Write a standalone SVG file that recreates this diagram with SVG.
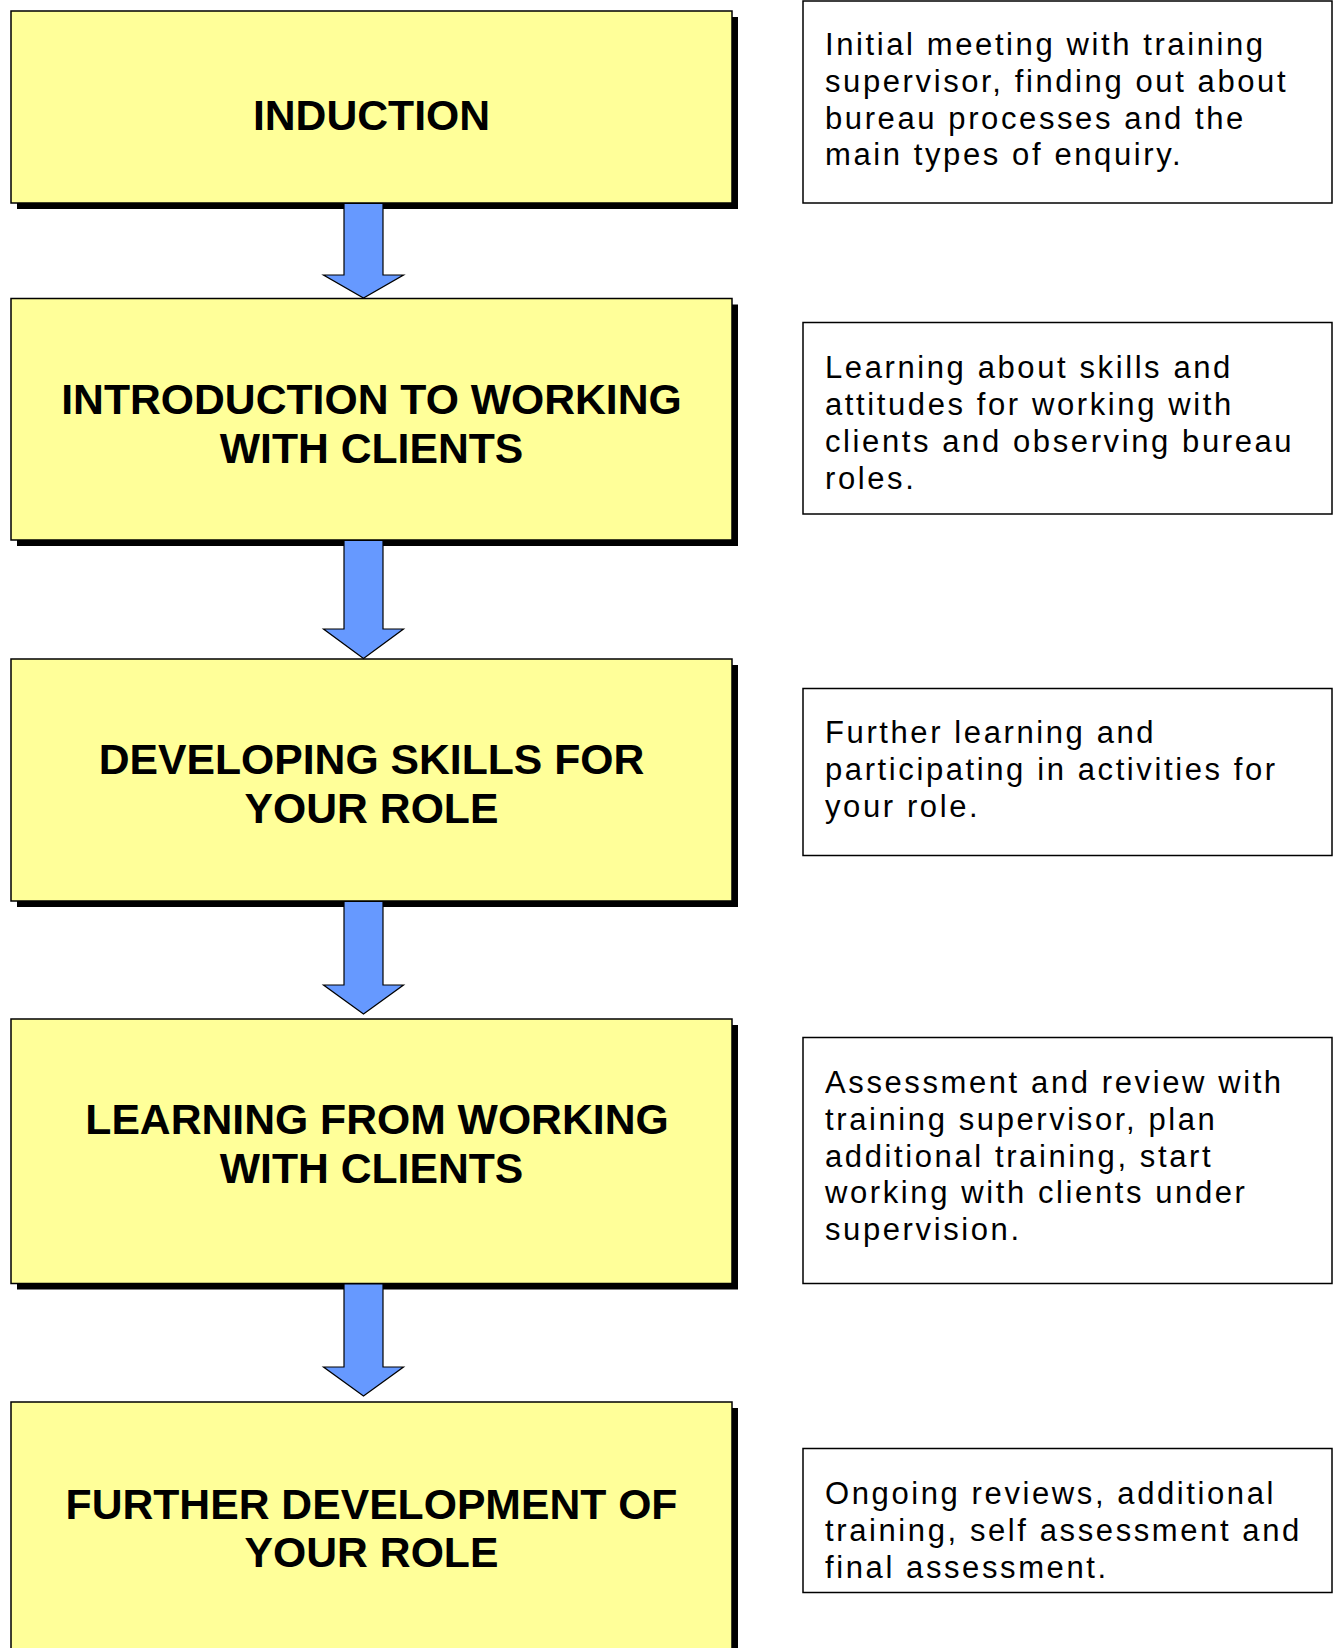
<svg xmlns="http://www.w3.org/2000/svg" width="1334" height="1648" viewBox="0 0 1334 1648">
<style>
.shadow{fill:#000}
.stage{fill:#FFFF99;stroke:#000;stroke-width:1.5}
.title{font-family:"Liberation Sans",Arial,sans-serif;font-weight:bold;font-size:42.7px;fill:#000;text-anchor:middle}
.note{fill:#fff;stroke:#000;stroke-width:1.5}
.desc{font-family:"Liberation Sans",Arial,sans-serif;font-size:31px;letter-spacing:2.6px;fill:#000}
.arrow{fill:#6699FF;stroke:#000;stroke-width:1.2;stroke-linejoin:miter}
</style>
<rect width="1334" height="1648" fill="#fff"/>

<g id="stage1">
<rect class="shadow" x="17" y="17" width="721" height="192"/>
<rect class="stage" x="11" y="11" width="721" height="192"/>
<text class="title" x="371.5" y="130">INDUCTION</text>
</g>
<g id="stage2">
<rect class="shadow" x="17" y="304.5" width="721" height="241.5"/>
<rect class="stage" x="11" y="298.5" width="721" height="241.5"/>
<text class="title" x="371.5" y="414">INTRODUCTION TO WORKING</text>
<text class="title" x="371.5" y="463">WITH CLIENTS</text>
</g>
<g id="stage3">
<rect class="shadow" x="17" y="665" width="721" height="242"/>
<rect class="stage" x="11" y="659" width="721" height="242"/>
<text class="title" x="371.5" y="774">DEVELOPING SKILLS FOR</text>
<text class="title" x="371.5" y="823">YOUR ROLE</text>
</g>
<g id="stage4">
<rect class="shadow" x="17" y="1025" width="721" height="264.5"/>
<rect class="stage" x="11" y="1019" width="721" height="264.5"/>
<text class="title" x="377" y="1134">LEARNING FROM WORKING</text>
<text class="title" x="371.5" y="1183">WITH CLIENTS</text>
</g>
<g id="stage5">
<rect class="shadow" x="17" y="1408" width="721" height="260"/>
<rect class="stage" x="11" y="1402" width="721" height="260"/>
<text class="title" x="371.5" y="1519">FURTHER DEVELOPMENT OF</text>
<text class="title" x="371.5" y="1567">YOUR ROLE</text>
</g>

<g id="note1">
<rect class="note" x="803" y="1" width="529" height="202"/>
<text class="desc" x="825" y="55">Initial meeting with training</text>
<text class="desc" x="825" y="91.8">supervisor, finding out about</text>
<text class="desc" x="825" y="128.6">bureau processes and the</text>
<text class="desc" x="825" y="165.4">main types of enquiry.</text>
</g>
<g id="note2">
<rect class="note" x="803" y="322.5" width="529" height="191.5"/>
<text class="desc" x="825" y="378.2">Learning about skills and</text>
<text class="desc" x="825" y="415">attitudes for working with</text>
<text class="desc" x="825" y="451.8">clients and observing bureau</text>
<text class="desc" x="825" y="488.6">roles.</text>
</g>
<g id="note3">
<rect class="note" x="803" y="688.5" width="529" height="167"/>
<text class="desc" x="825" y="743">Further learning and</text>
<text class="desc" x="825" y="779.8">participating in activities for</text>
<text class="desc" x="825" y="816.6">your role.</text>
</g>
<g id="note4">
<rect class="note" x="803" y="1037.5" width="529" height="246"/>
<text class="desc" x="825" y="1093">Assessment and review with</text>
<text class="desc" x="825" y="1129.8">training supervisor, plan</text>
<text class="desc" x="825" y="1166.6">additional training, start</text>
<text class="desc" x="825" y="1203.4">working with clients under</text>
<text class="desc" x="825" y="1240.2">supervision.</text>
</g>
<g id="note5">
<rect class="note" x="803" y="1448.5" width="529" height="144"/>
<text class="desc" x="825" y="1504">Ongoing reviews, additional</text>
<text class="desc" x="825" y="1540.8">training, self assessment and</text>
<text class="desc" x="825" y="1577.6">final assessment.</text>
</g>

<g id="connectors">
<path class="arrow" d="M344,203.5 H383 V275 H403.5 L363.5,298 L323.5,275 H344 Z"/>
<path class="arrow" d="M344,540.5 H383 V629 H403.5 L363.5,658.5 L323.5,629 H344 Z"/>
<path class="arrow" d="M344,901.5 H383 V985 H403.5 L363.5,1014 L323.5,985 H344 Z"/>
<path class="arrow" d="M344,1284 H383 V1367 H403.5 L363.5,1396 L323.5,1367 H344 Z"/>
</g>
</svg>
